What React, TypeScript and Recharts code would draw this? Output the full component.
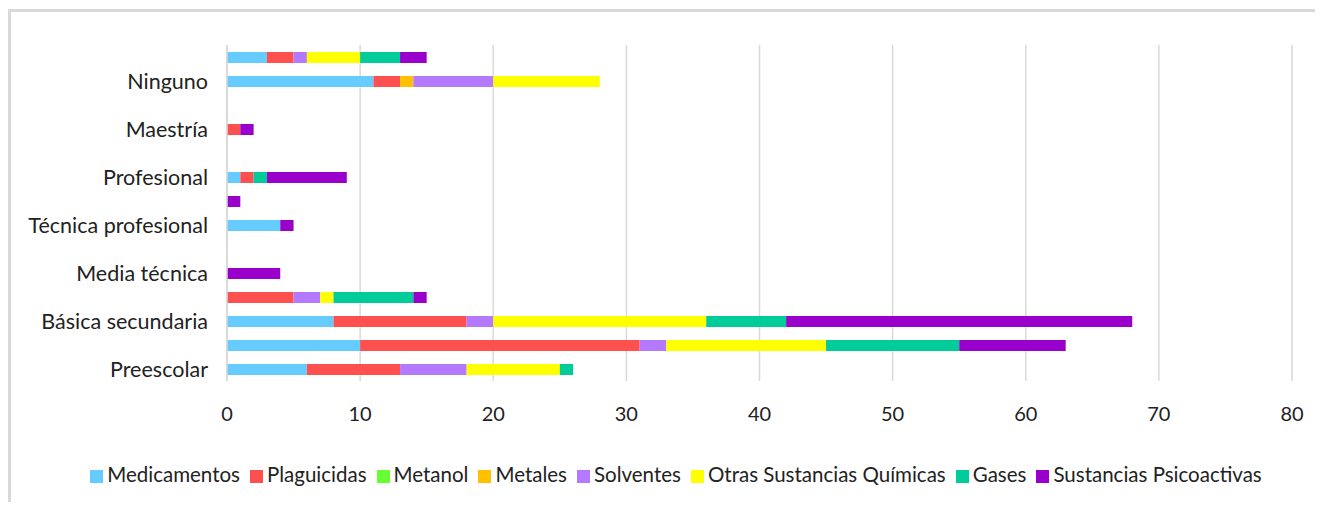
import React from 'react';
import { BarChart, Bar, XAxis, YAxis, CartesianGrid, Legend } from 'recharts';

const categories = [
  'Preescolar',
  'Básica primaria',
  'Básica secundaria',
  'Media académica',
  'Media técnica',
  'Normalista',
  'Técnica profesional',
  'Tecnológica',
  'Profesional',
  'Especialización',
  'Maestría',
  'Doctorado',
  'Ninguno',
  'Sin información',
];

const medicamentos = [6, 10, 8, 0, 0, 0, 4, 0, 1, 0, 0, 0, 11, 3];
const plaguicidas = [7, 21, 10, 5, 0, 0, 0, 0, 1, 0, 1, 0, 2, 2];
const metanol = [0, 0, 0, 0, 0, 0, 0, 0, 0, 0, 0, 0, 0, 0];
const metales = [0, 0, 0, 0, 0, 0, 0, 0, 0, 0, 0, 0, 1, 0];
const solventes = [5, 2, 2, 2, 0, 0, 0, 0, 0, 0, 0, 0, 6, 1];
const otras = [7, 12, 16, 1, 0, 0, 0, 0, 0, 0, 0, 0, 8, 4];
const gases = [1, 10, 6, 6, 0, 0, 0, 0, 1, 0, 0, 0, 0, 3];
const psicoactivas = [0, 8, 26, 1, 4, 0, 1, 1, 6, 0, 1, 0, 0, 2];

const xTicks = [0, 10, 20, 30, 40, 50, 60, 70, 80];

const series = [
  { key: 'Medicamentos', values: medicamentos, color: '#66CCFF' },
  { key: 'Plaguicidas', values: plaguicidas, color: '#FF5050' },
  { key: 'Metanol', values: metanol, color: '#66FF33' },
  { key: 'Metales', values: metales, color: '#FFC000' },
  { key: 'Solventes', values: solventes, color: '#B579FF' },
  { key: 'Otras Sustancias Químicas', values: otras, color: '#FFFF00' },
  { key: 'Gases', values: gases, color: '#00CC99' },
  { key: 'Sustancias Psicoactivas', values: psicoactivas, color: '#9900CC' },
];

const data = categories.map((name, i) => {
  const row: Record<string, string | number> = { name };
  series.forEach((s) => {
    row[s.key] = s.values[i];
  });
  return row;
});

const FONT = 'Lato, "Noto Sans", sans-serif';
const TEXT = '#222222';

const legendOrder = (item: any) => series.findIndex((s) => s.key === (item && item.value));

export default function App() {
  return (
    <div
      style={{
        marginTop: 1,
        width: 1312,
        height: 490,
        borderTop: '3px solid #d9d9d9',
        borderLeft: '3px solid #d9d9d9',
        background: '#fff',
        fontFamily: FONT,
      }}
    >
      <BarChart
        width={1312}
        height={490}
        data={data}
        layout="vertical"
        barSize={11}
        margin={{ top: 33, right: 31, bottom: 47, left: 0 }}
      >
        <CartesianGrid horizontal={false} vertical stroke="#d9d9d9" strokeWidth={1.5} />
        <XAxis
          type="number"
          domain={[0, 80]}
          ticks={xTicks}
          axisLine={false}
          tickLine={false}
          tickSize={0}
          tickMargin={26}
          height={50}
          tick={{ fill: TEXT, fontSize: 20, fontFamily: FONT }}
        />
        <YAxis
          type="category"
          dataKey="name"
          reversed
          interval={1}
          width={216}
          axisLine={{ stroke: '#d9d9d9', strokeWidth: 1.5 }}
          tickLine={false}
          tickSize={0}
          tickMargin={19}
          tick={{ fill: TEXT, fontSize: 21.5, fontFamily: FONT }}
        />
        <Legend
          verticalAlign="bottom"
          align="center"
          iconType="square"
          iconSize={13}
          itemSorter={legendOrder}
          wrapperStyle={{ bottom: 16, left: 25, width: 1290, fontFamily: FONT, fontSize: 20.5 }}
          formatter={(value: string) => <span style={{ color: TEXT }}>{value}</span>}
        />
        {series.map((s) => (
          <Bar
            key={s.key}
            dataKey={s.key}
            name={s.key}
            stackId="a"
            fill={s.color}
            isAnimationActive={false}
          />
        ))}
      </BarChart>
    </div>
  );
}
